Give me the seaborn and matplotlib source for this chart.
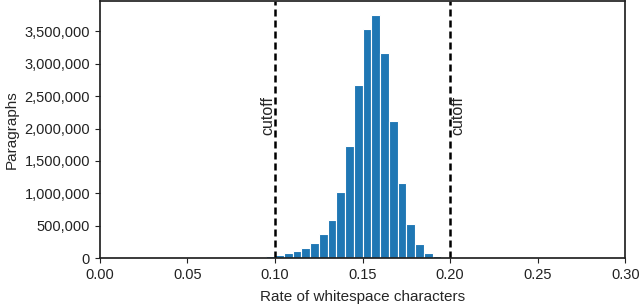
import numpy as np
import pandas as pd
import matplotlib
matplotlib.use("Agg")
import matplotlib.pyplot as plt
import matplotlib.ticker as mticker
import seaborn as sns

# bin starts (rate of whitespace characters), bin width 0.005
bin_starts = [0.090, 0.095, 0.100, 0.105, 0.110, 0.115, 0.120, 0.125, 0.130, 0.135,
              0.140, 0.145, 0.150, 0.155, 0.160, 0.165, 0.170, 0.175, 0.180, 0.185, 0.190]
paragraphs = [22000, 38000, 50000, 75000, 108000, 160000, 233000, 367000, 588000, 1017000,
              1727000, 2677000, 3535000, 3756000, 3165000, 2122000, 1161000, 524000, 211000, 72000, 24000]
cutoffs = [0.10, 0.20]
x_ticks = [0.00, 0.05, 0.10, 0.15, 0.20, 0.25, 0.30]
y_ticks = [0, 500000, 1000000, 1500000, 2000000, 2500000, 3000000, 3500000]

sns.set_style("ticks")
plt.rcParams['font.family'] = ['Liberation Sans', 'DejaVu Sans']

binw = 0.005
df = pd.DataFrame({"rate": np.array(bin_starts) + binw / 2, "count": paragraphs})

fig = plt.figure(figsize=(6.4, 3.05), dpi=100)
ax = fig.add_axes([0.156, 0.154, 0.821, 0.843])
sns.histplot(data=df, x="rate", weights="count", binwidth=binw,
             binrange=(bin_starts[0], bin_starts[-1] + binw),
             color="#1f77b4", alpha=1.0,
             edgecolor="white", linewidth=0.8, ax=ax)

for c, ha in zip(cutoffs, ["right", "left"]):
    ax.axvline(c, color="black", linestyle=(0, (2.8, 1.6)), linewidth=1.8)
    ax.text(c, 2200000, "cutoff", rotation=90, ha=ha, va="center", fontsize=11.5)

ax.set_xlim(0, 0.30)
ax.set_ylim(0, 3970000)
ax.set_xticks(x_ticks)
ax.set_yticks(y_ticks)
ax.xaxis.set_major_formatter(mticker.FormatStrFormatter("%.2f"))
ax.yaxis.set_major_formatter(mticker.FuncFormatter(lambda v, p: f"{int(v):,}"))
ax.tick_params(labelsize=10.5, colors="#222222")
ax.set_xlabel("Rate of whitespace characters", fontsize=11, labelpad=6)
ax.set_ylabel("Paragraphs", fontsize=11)
for s in ax.spines.values():
    s.set_visible(True)
    s.set_color("#222222")
    s.set_linewidth(1.25)

fig.savefig("out.png", dpi=100)
